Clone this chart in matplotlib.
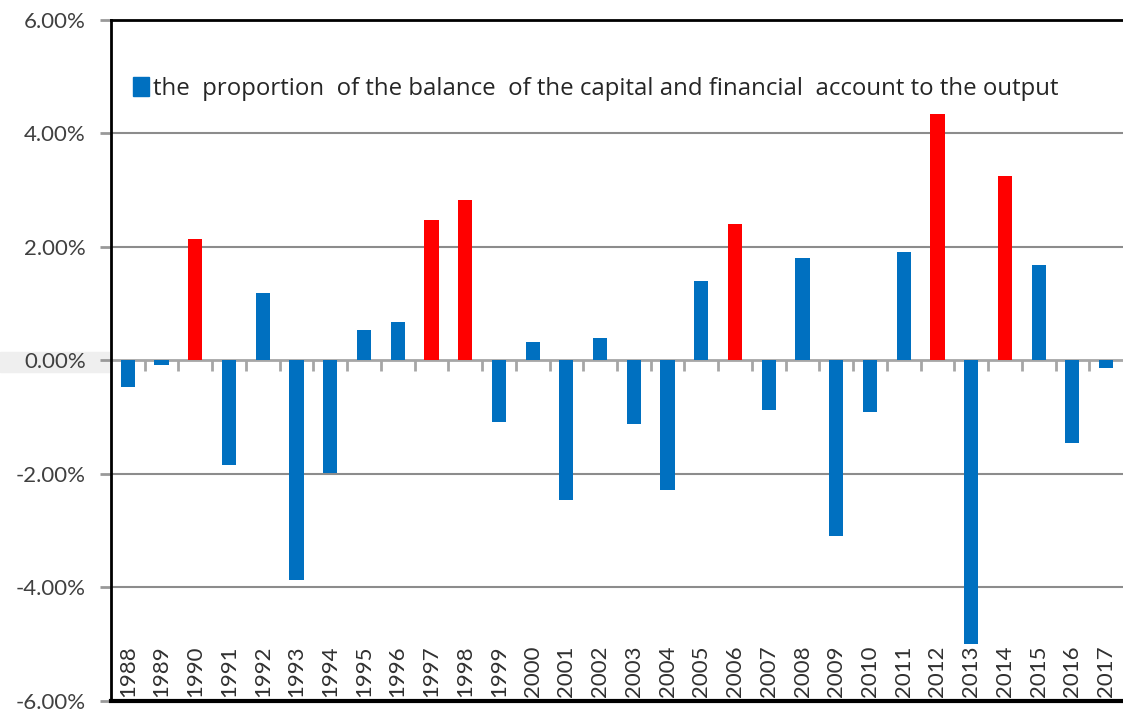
import matplotlib.pyplot as plt
from matplotlib.patches import Patch, Rectangle
from matplotlib.ticker import FuncFormatter

years = list(range(1988, 2018))
values = [-0.47, -0.08, 2.14, -1.84, 1.19, -3.88, -1.98, 0.53, 0.67, 2.47,
          2.82, -1.09, 0.33, -2.47, 0.40, -1.12, -2.28, 1.39, 2.40, -0.88,
          1.81, -3.10, -0.91, 1.91, 4.35, -5.00, 3.25, 1.68, -1.46, -0.14]
highlight = [1990, 1997, 1998, 2006, 2012, 2014]
label = "the  proportion  of the balance  of the capital and financial  account to the output"

blue = "#0070C0"
red = "#FF0000"
plt.rcParams["font.family"] = ["Lato", "DejaVu Sans"]

fig = plt.figure(figsize=(11.23, 7.11), dpi=100)
ax = fig.add_axes([0.0988, 0.0145, 0.9012, 0.9575])

# light band behind the 0.00% label
fig.patches.append(Rectangle((0, 1 - 372 / 711), 110 / 1123, 20 / 711,
                             transform=fig.transFigure, color="#EFEFEF", zorder=-1))

x = list(range(len(years)))
colors = [red if y in highlight else blue for y in years]
ax.bar(x, values, width=0.42, color=colors, zorder=3)

ax.set_xlim(-0.5, len(years) - 0.5)
ax.set_ylim(-6, 6)
ax.set_yticks([-6, -4, -2, 0, 2, 4, 6])
ax.yaxis.set_major_formatter(FuncFormatter(lambda v, p: f"{v:.2f}%"))
ax.tick_params(axis="y", labelsize=16, labelcolor="#404040", color="#999999",
               length=8, width=2, pad=10)
ax.set_xticks([])

for g in [-4, -2, 2, 4]:
    ax.axhline(g, color="#8C8C8C", lw=1.5, zorder=1)
ax.axhline(0, color="#A6A6A6", lw=2, zorder=2)
ax.vlines([i + 0.5 for i in x[:-1]], -0.18, 0, color="#A6A6A6", lw=2, zorder=2)

for i, y in zip(x, years):
    ax.text(i, -5.93, str(y), rotation=90, ha="center", va="bottom",
            fontsize=16, color="#303030", zorder=4)

for s in ["left", "top"]:
    ax.spines[s].set_linewidth(2)
    ax.spines[s].set_color("black")
ax.spines["bottom"].set_linewidth(3)
ax.spines["right"].set_visible(False)

ax.legend(handles=[Patch(color=blue)], labels=[label], loc="upper left",
          bbox_to_anchor=(0.0, 0.948), frameon=False,
          prop={"family": ["Open Sans", "DejaVu Sans"], "size": 17.3},
          handlelength=0.7, handleheight=0.85, handletextpad=0.15,
          labelcolor="#262626")

fig.savefig("out.png", dpi=100)
